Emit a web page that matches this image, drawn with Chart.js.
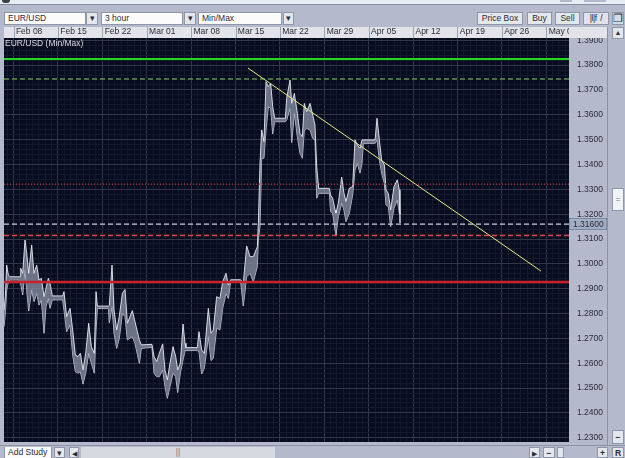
<!DOCTYPE html>
<html>
<head>
<meta charset="utf-8">
<title>EUR/USD (Min/Max)</title>
<script src="https://cdn.jsdelivr.net/npm/chart.js@4"></script>
<style>
  html, body { margin: 0; padding: 0; background: #b4bacb; }
  #app { position: relative; width: 625px; height: 458px; overflow: hidden; background: #b4bacb; font: 8.5px "Liberation Sans", Arial, sans-serif; color: #2a2d36; }
  #app canvas { position: absolute; left: 0; top: 0; z-index: 2; }
  .box { position: absolute; box-sizing: border-box; white-space: nowrap; }
  .field { background: #fbfbfb; border: 1px solid #8f96a8; padding-left: 3px; line-height: 11px; }
  .btn { background: #e4e7ec; border: 1px solid #8f96a8; text-align: center; line-height: 11px; }
  .top { z-index: 3; }
</style>
</head>
<body>
<div id="app">
  <!-- window chrome underneath the canvas -->
  <div class="box" style="left:0;top:0;width:625px;height:5px;background:#e6edf3;border-bottom:1px solid #868c9e"></div>
  <div class="box" style="left:560px;top:0;width:12px;height:2px;background:#b4bacb"></div>
  <div class="box" style="left:584px;top:0;width:22px;height:2px;background:#b4bacb"></div>
  <div class="box" style="left:2px;top:0;width:8px;height:3px;background:#3c3f48;border-radius:0 0 4px 4px"></div>

  <div class="box field" style="left:4px;top:12px;width:82px;height:13px">EUR/USD</div>
  <div class="box btn" style="left:86px;top:12px;width:12px;height:13px">&#9662;</div>
  <div class="box field" style="left:101px;top:12px;width:82px;height:13px">3 hour</div>
  <div class="box btn" style="left:184px;top:12px;width:12px;height:13px">&#9662;</div>
  <div class="box field" style="left:198px;top:12px;width:84px;height:13px">Min/Max</div>
  <div class="box btn" style="left:283px;top:12px;width:11px;height:13px">&#9662;</div>

  <div class="box btn" style="left:477px;top:12px;width:46px;height:13px">Price Box</div>
  <div class="box btn" style="left:527px;top:12px;width:25px;height:13px">Buy</div>
  <div class="box btn" style="left:555px;top:12px;width:25px;height:13px">Sell</div>
  <div class="box btn" style="left:583px;top:12px;width:26px;height:13px;background:#dfe2e9;letter-spacing:-.5px">|l|f &nbsp;/</div>
  <div class="box btn" style="left:612px;top:12px;width:12px;height:13px;font-size:11px;line-height:10px;background:#d6dae2">&#10064;</div>

  <div class="box" style="left:4px;top:27px;width:565px;height:11px;background:#e2e4e9"></div>

  <!-- right-hand zoom column -->
  <div class="box" style="left:607px;top:27px;width:1px;height:418px;background:#8d93a5"></div>
  <div class="box btn" style="left:612px;top:27px;width:12px;height:12px;font-size:7px;line-height:10px">&#9650;</div>
  <div class="box btn" style="left:612px;top:188px;width:12px;height:23px;background:#f2f3f6;line-height:20px;color:#777">=</div>
  <div class="box btn" style="left:612px;top:430px;width:12px;height:14px;font-weight:bold;line-height:12px">&minus;</div>

  <!-- bottom bar -->
  <div class="box" style="left:0;top:445px;width:625px;height:1px;background:#8d93a5"></div>
  <div class="box field" style="left:4px;top:447px;width:48px;height:11px;line-height:11px;border-width:0 1px 0 1px">Add Study</div>
  <div class="box btn" style="left:54px;top:447px;width:11px;height:11px">&#9662;</div>
  <div class="box btn" style="left:69px;top:447px;width:10px;height:11px;font-size:7px">&#9664;</div>
  <div class="box btn" style="left:81px;top:447px;width:194px;height:11px;background:#d5dae0;border:0;color:#777">||</div>
  <div class="box btn" style="left:529px;top:447px;width:11px;height:11px;font-size:7px">&#9654;</div>
  <div class="box btn" style="left:543px;top:447px;width:12px;height:11px;font-weight:bold">&minus;</div>
  <div class="box btn" style="left:557px;top:447px;width:7px;height:11px"></div>
  <div class="box btn" style="left:597px;top:447px;width:11px;height:11px;font-weight:bold">+</div>
  <div class="box btn" style="left:612px;top:447px;width:12px;height:11px;font-weight:bold">R</div>

  <canvas id="chart" width="625" height="458"></canvas>

  <!-- pieces that sit above the canvas -->
  <div class="box top" style="left:569px;top:27px;width:38px;height:11px;background:#e2e4e9"></div>
  <div class="box top" style="left:5px;top:38px;color:#d8dbe2;line-height:11px">EUR/USD (Min/Max)</div>
</div>

<script>
// Weekly date ticks, counted in days from Feb 08
const tickDays = [0, 7, 14, 21, 28, 35, 42, 49, 56, 63, 70, 77, 84];
const tickLabels = ['Feb 08', 'Feb 15', 'Feb 22', 'Mar 01', 'Mar 08', 'Mar 15', 'Mar 22', 'Mar 29', 'Apr 05', 'Apr 12', 'Apr 19', 'Apr 26', 'May 03'];

// Three-hour min/max price band
const priceDays = [-1.5,-1.29,-1.08,-0.81,-0.55,1.03,1.13,1.45,1.81,2.08,2.39,2.86,3.23,3.65,4.02,4.39,4.81,5.12,5.49,5.75,6.12,7.75,7.96,8.38,8.91,9.33,9.75,10.17,10.54,10.96,11.38,11.85,12.27,12.74,13.01,13.22,14.95,15.11,15.53,15.85,16.26,16.68,17.16,17.58,17.95,18.73,19.15,19.84,20.15,21.83,22.15,22.57,22.99,23.52,23.88,24.25,24.67,25.15,25.57,25.88,26.30,26.72,27.04,27.19,28.98,29.24,29.66,30.09,30.72,31.14,31.50,32.03,32.55,32.98,33.50,33.87,34.24,35.81,36.23,36.76,37.29,37.81,38.44,38.60,38.86,39.13,39.49,39.81,40.18,40.54,40.86,41.18,42.86,43.07,43.59,43.86,44.28,44.75,45.17,45.54,45.85,46.22,46.75,47.17,47.53,47.80,48.11,49.79,50.00,50.32,50.69,50.84,51.21,51.74,52.10,52.42,52.95,53.47,53.84,54.21,54.63,54.94,55.15,57.01,57.31,57.68,58.04,58.47,58.73,59.09,59.46,59.99,60.51,60.83,60.93];
const priceHigh = [1.2814,1.2868,1.2995,1.2955,1.2948,1.2948,1.2982,1.2962,1.3096,1.3042,1.2962,1.3076,1.2962,1.2995,1.2935,1.2942,1.2868,1.2901,1.2942,1.2922,1.2871,1.2871,1.2888,1.2788,1.2821,1.2734,1.2633,1.2627,1.2640,1.2573,1.2640,1.2761,1.2667,1.2640,1.2888,1.2830,1.2830,1.2834,1.2995,1.2814,1.2734,1.2788,1.2881,1.2897,1.2761,1.2812,1.2767,1.2694,1.2674,1.2676,1.2627,1.2607,1.2640,1.2678,1.2573,1.2533,1.2600,1.2667,1.2627,1.2573,1.2600,1.2758,1.2680,1.2663,1.2663,1.2727,1.2654,1.2640,1.2821,1.2721,1.2734,1.2868,1.2861,1.2928,1.2962,1.2915,1.2936,1.2936,1.2922,1.3072,1.3029,1.3029,1.3069,1.3164,1.3405,1.3539,1.3492,1.3733,1.3713,1.3726,1.3633,1.3586,1.3586,1.3666,1.3740,1.3646,1.3686,1.3606,1.3525,1.3512,1.3646,1.3612,1.3646,1.3599,1.3559,1.3391,1.3304,1.3304,1.3277,1.3264,1.3217,1.3204,1.3244,1.3349,1.3284,1.3251,1.3304,1.3311,1.3499,1.3478,1.3465,1.3499,1.3499,1.3499,1.3586,1.3499,1.3418,1.3398,1.3298,1.3284,1.3217,1.3311,1.3338,1.3298,1.3201];
const priceLow = [1.2747,1.2801,1.2895,1.2928,1.2935,1.2935,1.2935,1.2875,1.2975,1.2895,1.2810,1.2895,1.2848,1.2881,1.2834,1.2855,1.2721,1.2828,1.2861,1.2821,1.2855,1.2855,1.2814,1.2727,1.2754,1.2633,1.2566,1.2560,1.2566,1.2516,1.2560,1.2640,1.2600,1.2560,1.2734,1.2820,1.2820,1.2763,1.2828,1.2721,1.2660,1.2700,1.2801,1.2788,1.2694,1.2707,1.2680,1.2600,1.2660,1.2664,1.2560,1.2546,1.2546,1.2573,1.2506,1.2459,1.2506,1.2560,1.2546,1.2482,1.2560,1.2613,1.2651,1.2651,1.2651,1.2647,1.2557,1.2580,1.2707,1.2611,1.2620,1.2741,1.2734,1.2821,1.2881,1.2861,1.2928,1.2928,1.2830,1.2948,1.2962,1.2928,1.2989,1.3097,1.3150,1.3425,1.3425,1.3539,1.3633,1.3626,1.3523,1.3572,1.3572,1.3579,1.3626,1.3488,1.3606,1.3512,1.3445,1.3425,1.3539,1.3545,1.3539,1.3505,1.3499,1.3264,1.3284,1.3284,1.3210,1.3204,1.3137,1.3117,1.3190,1.3244,1.3217,1.3170,1.3204,1.3277,1.3378,1.3405,1.3365,1.3405,1.3485,1.3485,1.3499,1.3418,1.3365,1.3324,1.3237,1.3231,1.3150,1.3224,1.3257,1.3204,1.3164];

// Horizontal study levels
const resistanceUpper = 1.3824;
const resistanceLower = 1.3744;
const levelDotted = 1.3321;
const lastPrice = 1.316;
const supportUpper = 1.3114;
const supportLower = 1.2927;

// Falling trendline end points
const trendDays = [36.97, 83.16];
const trendPrices = [1.3788, 1.2971];

const xMin = -1.5, xMax = 87.58;
const yMin = 1.2283, yMax = 1.3909;
const uiFont = { family: '"Liberation Sans", Arial, sans-serif', size: 8.5 };

const toPoints = (xs, ys) => xs.map((x, i) => ({ x, y: ys[i] }));
const level = (value, color, width, dash) => ({
  type: 'line',
  data: [{ x: xMin, y: value }, { x: xMax, y: value }],
  borderColor: color, borderWidth: width, borderDash: dash,
  pointRadius: 0, fill: false, order: 0
});

// Boxed read-out of the last price on the value axis, and the date header dividers
const axisDecor = {
  id: 'axisDecor',
  afterDraw(chart) {
    const { ctx, scales: { x, y } } = chart;
    ctx.save();
    ctx.fillStyle = '#9aa3b8';
    tickDays.forEach(d => {
      ctx.fillRect(Math.round(x.getPixelForValue(d)), 27, 1, 11);
    });
    const py = Math.round(y.getPixelForValue(lastPrice));
    ctx.fillStyle = '#a3adc4';
    ctx.strokeStyle = '#7d88a3';
    ctx.fillRect(570, py - 6, 37, 12);
    ctx.strokeRect(569.5, py - 5.5, 37, 11);
    ctx.fillStyle = '#2a2d36';
    ctx.font = '8.5px "Liberation Sans", Arial, sans-serif';
    ctx.textBaseline = 'middle';
    ctx.fillText(lastPrice.toFixed(5), 573, py + 0.5);
    ctx.restore();
  }
};

// Plot background
const plotBackground = {
  id: 'plotBackground',
  beforeDraw(chart) {
    const { ctx, chartArea: a } = chart;
    ctx.save();
    ctx.fillStyle = '#070d1f';
    ctx.fillRect(a.left, a.top, a.right - a.left, a.bottom - a.top);
    ctx.restore();
  }
};

new Chart(document.getElementById('chart'), {
  type: 'line',
  plugins: [plotBackground, axisDecor],
  data: {
    datasets: [
      level(resistanceUpper, '#22d81e', 2, []),
      level(resistanceLower, '#86d060', 1, [5, 3]),
      level(levelDotted, '#b8303e', 1.1, [1, 2]),
      level(lastPrice, '#c8ccd8', 1.2, [5, 3]),
      level(supportUpper, '#e0404a', 1.4, [5, 3]),
      level(supportLower, '#c9202a', 2.6, []),
      {
        type: 'line',
        data: toPoints(trendDays, trendPrices),
        borderColor: '#e6e88a', borderWidth: 1,
        pointRadius: 0, fill: false, order: 1
      },
      {
        type: 'line',
        data: toPoints(priceDays, priceHigh),
        borderColor: '#e6e9f0', borderWidth: 0.9,
        backgroundColor: 'rgba(134,140,160,0.8)',
        pointRadius: 0, tension: 0, fill: '+1', order: 2
      },
      {
        type: 'line',
        data: toPoints(priceDays, priceLow),
        borderColor: '#cfd3de', borderWidth: 0.9,
        pointRadius: 0, tension: 0, fill: false, order: 2
      }
    ]
  },
  options: {
    responsive: false,
    animation: false,
    parsing: false,
    layout: { padding: { left: 4, top: 27, right: 18, bottom: 16 } },
    plugins: { legend: { display: false }, tooltip: { enabled: false }, title: { display: false } },
    scales: {
      x: {
        type: 'linear',
        position: 'top',
        min: xMin, max: xMax,
        afterFit: s => { s.height = 11; },
        afterBuildTicks: s => {
          const ticks = [];
          for (let d = -1; d <= 87; d++) ticks.push({ value: d });
          s.ticks = ticks;
        },
        border: { display: false },
        grid: {
          drawTicks: false,
          color: c => (tickDays.includes(c.tick.value) ? '#30374a' : '#131a2d')
        },
        ticks: {
          autoSkip: false, maxRotation: 0, align: 'start', padding: 1,
          color: '#2a2d36', font: uiFont,
          callback: v => {
            const i = tickDays.indexOf(v);
            return i < 0 ? '' : ' ' + tickLabels[i];
          }
        }
      },
      y: {
        type: 'linear',
        position: 'right',
        min: yMin, max: yMax,
        afterFit: s => { s.width = 38; },
        afterBuildTicks: s => {
          const ticks = [];
          for (let k = 615; k <= 695; k++) ticks.push({ value: k / 500 });
          s.ticks = ticks;
        },
        border: { display: false },
        grid: {
          drawTicks: false,
          color: c => (Math.round(c.tick.value * 500) % 5 === 0 ? '#30374a' : '#131a2d')
        },
        ticks: {
          autoSkip: false, padding: 8, color: '#2a2d36', font: uiFont,
          callback: v => (Math.round(v * 500) % 5 === 0 ? v.toFixed(4) : '')
        }
      }
    }
  }
});
</script>
</body>
</html>
